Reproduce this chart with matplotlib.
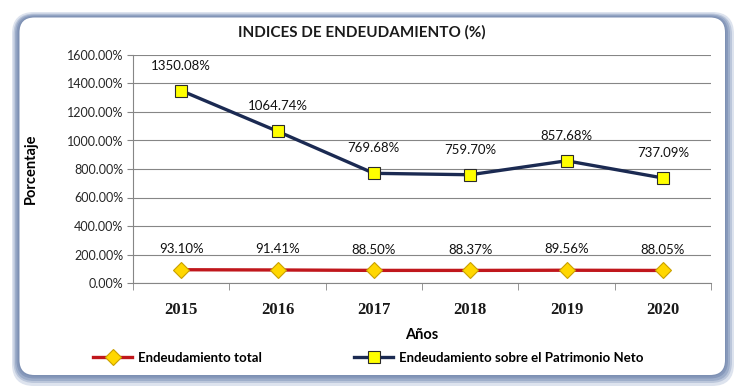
import matplotlib
matplotlib.use("Agg")
import matplotlib.pyplot as plt
from matplotlib.patches import FancyBboxPatch

# Datos del grafico
years = ["2015", "2016", "2017", "2018", "2019", "2020"]
endeudamiento_total = [93.10, 91.41, 88.50, 88.37, 89.56, 88.05]
endeudamiento_patrimonio = [1350.08, 1064.74, 769.68, 759.70, 857.68, 737.09]
y_ticks = [0, 200, 400, 600, 800, 1000, 1200, 1400, 1600]

plt.rcParams['font.family'] = ['Lato', 'DejaVu Sans']

fig = plt.figure(figsize=(7.42, 3.92), dpi=100)
fig.patch.set_facecolor('white')

# marco redondeado con sombra (en pixeles)
bg = fig.add_axes([0, 0, 1, 1], zorder=0)
bg.set_xlim(0, 742)
bg.set_ylim(392, 0)
bg.axis('off')
capas = [
    ((12, 12, 734, 386), '#dde3ee', 22),
    ((13.5, 13.5, 732, 383), '#bcc7db', 21),
    ((15, 14.5, 730, 381), '#9eaeca', 19),
    ((16.5, 15.5, 728, 378.5), '#8799bb', 18),
    ((18, 16.5, 726, 376.5), '#7d90b3', 17),
    ((19.5, 17.5, 725, 375), 'white', 15),
]
for (x0, y0, x1, y1), c, r in capas:
    bg.add_patch(FancyBboxPatch((x0, y0), x1 - x0, y1 - y0,
                                boxstyle=f"round,pad=0,rounding_size={r}",
                                facecolor=c, edgecolor='none'))

ax = fig.add_axes([133 / 742, 1 - 283 / 392, 578 / 742, 228 / 392], zorder=1)
ax.set_facecolor('white')
x = list(range(len(years)))

ax.plot(x, endeudamiento_total, color='#c0171c', linewidth=2.4, marker='D', markersize=8,
        markerfacecolor='#ffd700', markeredgecolor='#c9a000', markeredgewidth=0.8,
        label='Endeudamiento total', zorder=3)
ax.plot(x, endeudamiento_patrimonio, color='#1b2a52', linewidth=2.4, marker='s', markersize=9,
        markerfacecolor='#ffff00', markeredgecolor='#2b2b2b', markeredgewidth=0.8,
        label='Endeudamiento sobre el Patrimonio Neto', zorder=3)

# etiquetas de datos
for xi, v in zip(x, endeudamiento_total):
    ax.annotate(f"{v:.2f}%", (xi, v), xytext=(0, 15), textcoords='offset points',
                ha='center', va='center', fontsize=9.5, color='#111111')
for xi, v in zip(x, endeudamiento_patrimonio):
    ax.annotate(f"{v:.2f}%", (xi, v), xytext=(0, 18), textcoords='offset points',
                ha='center', va='center', fontsize=9.5, color='#111111')

ax.set_xlim(-0.5, len(years) - 0.5)
ax.set_ylim(0, 1600)
ax.set_yticks(y_ticks)
ax.set_yticklabels([f"{t:.2f}%" for t in y_ticks], fontsize=9, color='#262626')
ax.set_xticks(x)
ax.set_xticklabels(years, fontsize=12, fontweight='bold', family='Liberation Serif', color='#1a1a1a')
ax.set_xticks([i - 0.5 for i in range(len(years) + 1)], minor=True)
ax.tick_params(axis='x', which='major', length=0, pad=14)
ax.tick_params(axis='x', which='minor', length=5, color='#868686')
ax.tick_params(axis='y', length=4, color='#868686', pad=3)

ax.grid(axis='y', color='#868686', linewidth=0.8)
ax.set_axisbelow(True)
for s in ['top', 'right']:
    ax.spines[s].set_visible(False)
for s in ['left', 'bottom']:
    ax.spines[s].set_color('#868686')

ax.set_ylabel('Porcentaje', fontsize=10.5, fontweight='bold')
ax.yaxis.set_label_coords(-0.164, 0.5)
ax.set_xlabel('Años', fontsize=10.5, fontweight='bold')
ax.xaxis.set_label_coords(0.5, -0.197)

fig.text(362 / 742, 1 - 32 / 392, 'INDICES DE ENDEUDAMIENTO (%)', ha='center', va='center',
         fontsize=11, fontweight='bold', color='#1a1a1a')

fig.legend(loc='center', bbox_to_anchor=(368 / 742, 1 - 358 / 392), ncol=2, frameon=False,
           handlelength=3, columnspacing=7, handletextpad=0.4,
           prop={'weight': 'bold', 'size': 9.5})

fig.savefig('out.png', dpi=100)
